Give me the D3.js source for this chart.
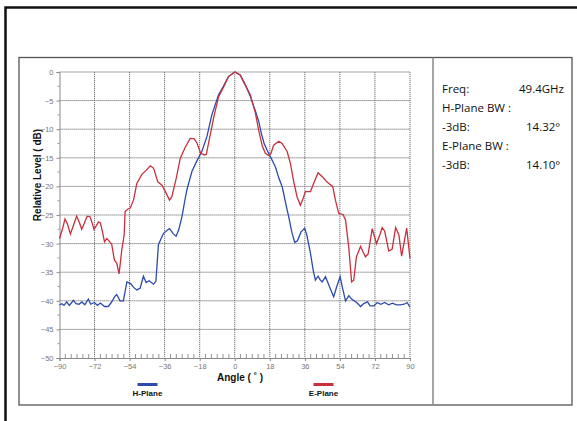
<!DOCTYPE html>
<html><head><meta charset="utf-8">
<script src="https://cdn.jsdelivr.net/npm/d3@7"></script>
<style>html,body{margin:0;padding:0;background:#fff;}svg{display:block;}</style>
</head><body>
<script>
const xTicks = [-90,-72,-54,-36,-18,0,18,36,54,72,90];
const yTicks = [0,-5,-10,-15,-20,-25,-30,-35,-40,-45,-50];
const seriesNames = ["H-Plane","E-Plane"];
const eAngles = [-90,-88.5,-87.2,-86,-84.4,-82.8,-81.2,-79.8,-78.6,-77.3,-75.8,-74.3,-73.3,-72.3,-71,-70,-69,-68,-66.9,-65.7,-64.4,-63.2,-61.8,-60.6,-59.4,-58,-56.8,-56.3,-55,-53.7,-52,-50.3,-47.7,-45.5,-43.4,-41.7,-39.5,-37.4,-35.5,-33.5,-32.3,-30,-28,-25.5,-22.9,-20.8,-19.4,-17.5,-15.5,-14.6,-12.6,-10.5,-8.3,-5.7,-3.2,0,2.8,5.4,8,10.6,12.3,14.2,15.7,17.4,18.5,20,22.6,24.3,26.9,28.6,30.3,32,33.7,35,36.3,38.9,40.5,42.8,44.9,47,48.3,50.3,51.7,53.4,55.6,56.9,58.6,60,61.1,62.5,64.6,66,67.1,68.5,70.6,72.8,74.5,75.7,77,79.1,80.8,82.6,84.3,85.7,88.3,90];
const eValues = [-29.1,-27.5,-25.7,-26.5,-28.3,-26.8,-25.2,-26.3,-27.5,-26.5,-25.2,-25.3,-26.3,-27.5,-26.8,-26.2,-26.4,-27.8,-29.7,-29.1,-29.6,-30.1,-32.9,-33.4,-35.3,-31.1,-28.5,-24.4,-24,-23.8,-22.4,-19.5,-17.9,-17.2,-16.4,-16.8,-19.2,-19.8,-21,-22.4,-21.8,-18.5,-15.1,-13.2,-11.6,-11.7,-12.4,-14.2,-14.5,-14.4,-11,-7.5,-4.3,-2.6,-0.8,0,-0.5,-2.3,-4,-7.2,-10.2,-13,-14.2,-14.6,-14.3,-12.8,-12.1,-12.5,-13.9,-16,-19.2,-21.8,-23.3,-22.2,-20.9,-20.9,-19.5,-17.6,-18.3,-19.1,-19.5,-20,-22.4,-24.7,-24.9,-25.9,-30.8,-36.7,-36.4,-32.3,-30.5,-31.5,-32.3,-31.8,-27.4,-30,-28.5,-27.2,-27.8,-31.3,-31,-27.2,-28.5,-32.2,-27.3,-32.6];
const hAngles = [-90,-88.7,-87.7,-86.3,-85,-83.7,-82.9,-81.5,-80,-78.5,-77,-75.2,-74,-72.1,-70.5,-69,-66.9,-65,-63.4,-61.5,-60.6,-58.9,-57.2,-55.4,-53.5,-51.8,-50.3,-48.6,-46.9,-45.5,-44,-41.7,-40.5,-39.2,-37.4,-36.6,-34,-33.5,-31.5,-30.1,-28.7,-27.1,-25.8,-24.6,-22,-19.4,-16.9,-14.3,-11.7,-8.3,-5.7,-3.2,0,2.8,5.4,8,10.6,12.3,13.5,15,16.5,18.3,20.9,22.6,24.3,25.1,26.5,27.7,29.3,30.8,32.2,34,35.9,37,38.9,40.2,41.4,42.8,43.8,44.9,46.6,47.8,48.6,50.8,52.4,54.1,55.5,56.9,58.6,60,62.6,64.6,66.2,68.2,69.5,71.5,73.2,75,77,79,81,83,85,87,88.5,90];
const hValues = [-40.7,-40.5,-40.8,-40.2,-40.8,-40.3,-39.9,-40.5,-40.6,-40.2,-40.7,-39.7,-40.6,-40.3,-40.8,-40.4,-41,-41,-40.3,-39.2,-38.9,-40,-40,-36.7,-37,-37.7,-38.1,-37.8,-35.7,-36.8,-36.5,-37.1,-36.6,-30.2,-28.8,-28.2,-27.5,-27.4,-28.3,-28.7,-27.5,-25.3,-22.8,-20.6,-17.4,-15.5,-13.9,-11.3,-7.4,-4,-2.4,-0.8,0,-0.5,-2.2,-4.3,-6.8,-8.6,-10.5,-12.4,-13.6,-14.8,-16.6,-18.5,-20,-21.2,-23.5,-25.3,-28,-29.8,-29.5,-28,-27.3,-28.5,-31.7,-34.5,-36.4,-35.7,-36.3,-36.7,-35.8,-36.8,-37.5,-39.3,-37.5,-35.8,-38,-40,-39.1,-39.7,-40.3,-41,-40.5,-40.2,-40.9,-40.9,-40.3,-40.6,-40.3,-40.7,-40.4,-40.7,-40.7,-40.6,-40.3,-41.1];
const infoLabels = ["Freq:","H-Plane BW :","-3dB:","E-Plane BW :","-3dB:"];
const infoValues = ["49.4GHz","","14.32°","","14.10°"];

const W = 577, H = 421;
const svg = d3.select("body").append("svg").attr("width", W).attr("height", H);

// frames
svg.append("rect").attr("x",5.5).attr("y",7.5).attr("width",700).attr("height",600)
  .attr("fill","none").attr("stroke","#111").attr("stroke-width",2.5);
svg.append("rect").attr("x",19).attr("y",57.5).attr("width",553).attr("height",347.5)
  .attr("fill","none").attr("stroke","#555").attr("stroke-width",1.3);
svg.append("line").attr("x1",433).attr("x2",433).attr("y1",57.5).attr("y2",405)
  .attr("stroke","#888").attr("stroke-width",1.5);

const x = d3.scaleLinear().domain([-90,90]).range([59.5,410]);
const y = d3.scaleLinear().domain([-50,0]).range([358,72]);

const g = svg.append("g");
// grid
g.selectAll(".gx").data(xTicks.slice(1)).enter().append("line")
  .attr("x1",d=>x(d)).attr("x2",d=>x(d)).attr("y1",y(0)).attr("y2",y(-50))
  .attr("stroke","#6f6f6f").attr("stroke-width",1).attr("stroke-dasharray","1.2,0.8");
g.selectAll(".gy").data(yTicks.slice(0,-1)).enter().append("line")
  .attr("x1",x(-90)).attr("x2",x(90)).attr("y1",d=>y(d)).attr("y2",d=>y(d))
  .attr("stroke","#6f6f6f").attr("stroke-width",1).attr("stroke-dasharray","1.2,0.8");

// axes
const xAxis = d3.axisBottom(x).tickValues(xTicks).tickSize(3).tickFormat(d3.format("d"));
const yAxis = d3.axisLeft(y).tickValues(yTicks).tickSize(3).tickFormat(d3.format("d"));
const gx = svg.append("g").attr("transform",`translate(0,${y(-50)})`).call(xAxis);
const gy = svg.append("g").attr("transform",`translate(${x(-90)},0)`).call(yAxis);
[gx,gy].forEach(a=>{
  a.select(".domain").attr("stroke","#888").attr("stroke-width",1);
  a.selectAll(".tick line").attr("stroke","#888");
  a.selectAll("text").attr("fill","#777").style("font-family","Liberation Sans, Arial, sans-serif").style("font-size","7.5px");
});
gx.selectAll("text").attr("dy","0.6em");
// minor ticks
const xMinor = d3.range(-90,90.01,3).filter(v=>v%18!==0);
svg.append("g").selectAll("line").data(xMinor).enter().append("line")
  .attr("x1",d=>x(d)).attr("x2",d=>x(d)).attr("y1",y(-50)).attr("y2",y(-50)-4)
  .attr("stroke","#888").attr("stroke-width",0.9);
const yMinor = d3.range(-47.5,0,5);
svg.append("g").selectAll("line").data(yMinor).enter().append("line")
  .attr("x1",x(-90)-2).attr("x2",x(-90)).attr("y1",d=>y(d)).attr("y2",d=>y(d))
  .attr("stroke","#888").attr("stroke-width",0.9);

// lines
const line = d3.line().x(d=>x(d[0])).y(d=>y(d[1]));
const hData = hAngles.map((a,i)=>[a,hValues[i]]);
const eData = eAngles.map((a,i)=>[a,eValues[i]]);
const colors = {"H-Plane":"#2c4cad","E-Plane":"#c9303d"};
svg.append("path").datum(hData).attr("d",line).attr("fill","none")
  .attr("stroke",colors["H-Plane"]).attr("stroke-width",1.3);
svg.append("path").datum(eData).attr("d",line).attr("fill","none")
  .attr("stroke",colors["E-Plane"]).attr("stroke-width",1.3);

// titles
svg.append("text").attr("transform","translate(41,175) rotate(-90)").attr("text-anchor","middle")
  .style("font-family","Liberation Sans, Arial, sans-serif").style("font-weight","bold").style("font-size","10px")
  .attr("fill","#111").text("Relative Level ( dB)");
svg.append("text").attr("x",217).attr("y",380.5)
  .style("font-family","Liberation Sans, Arial, sans-serif").style("font-weight","bold").style("font-size","10px")
  .attr("fill","#111").text("Angle ( ˚ )");

// legend
const legX = {"H-Plane":147.5,"E-Plane":323.5};
seriesNames.forEach(n=>{
  svg.append("line").attr("x1",legX[n]-10).attr("x2",legX[n]+10).attr("y1",384.5).attr("y2",384.5)
    .attr("stroke",colors[n]).attr("stroke-width",3);
  svg.append("text").attr("x",legX[n]).attr("y",396).attr("text-anchor","middle")
    .style("font-family","Liberation Sans, Arial, sans-serif").style("font-weight","bold").style("font-size","8px")
    .attr("fill","#111").text(n);
});

// info panel
const infoY = [93,112,131,150,169];
infoLabels.forEach((t,i)=>{
  svg.append("text").attr("x",442).attr("y",infoY[i]).text(t)
    .style("font-family","Open Sans, Liberation Sans, sans-serif").style("font-size","11.5px").attr("fill","#111");
  if(infoValues[i]){
    const isFreq = i===0;
    svg.append("text").attr("x",isFreq?564:526).attr("y",infoY[i]).attr("text-anchor",isFreq?"end":"start")
      .text(infoValues[i])
      .style("font-family","Open Sans, Liberation Sans, sans-serif").style("font-size","11.5px").attr("fill","#111");
  }
});
</script>
</body></html>
